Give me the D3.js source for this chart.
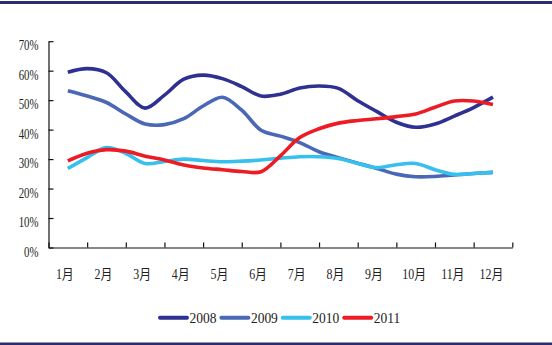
<!DOCTYPE html>
<html>
<head>
<meta charset="utf-8">
<script src="https://cdn.jsdelivr.net/npm/d3@7"></script>
<style>
  html, body { margin: 0; padding: 0; background: #fff; }
  svg { display: block; }
  text { font-family: "Liberation Serif", "Noto Sans CJK SC", serif; fill: #222; }
</style>
</head>
<body>
<svg id="chart" width="552" height="345"></svg>
<script>
// Month labels along the x axis
const months = ["1月", "2月", "3月", "4月", "5月", "6月", "7月", "8月", "9月", "10月", "11月", "12月"];
// Samples are taken twice a month, from early January to December
const sampleStep = 0.5;
// Share (%) by year
const s2008 = [59.5, 60.7, 59.3, 52.8, 47.3, 51.7, 57.1, 58.5, 57.3, 54.6, 51.4, 52.0, 54.1, 54.8, 54.0, 49.8, 46.1, 42.5, 40.8, 41.9, 44.6, 47.5, 51.0];
const s2009 = [53.2, 51.4, 49.2, 45.3, 41.9, 41.7, 43.7, 48.0, 51.0, 46.6, 39.8, 37.8, 35.6, 32.5, 30.5, 28.6, 26.8, 24.9, 24.0, 24.1, 24.6, 25.1, 25.5];
const s2010 = [26.8, 30.5, 33.9, 31.9, 28.5, 29.2, 30.0, 29.5, 29.1, 29.3, 29.7, 30.3, 30.8, 30.8, 30.2, 28.5, 27.1, 28.1, 28.5, 26.4, 24.8, 25.1, 25.5];
const s2011 = [29.4, 32.0, 33.2, 32.7, 31.0, 29.7, 28.0, 27.0, 26.4, 25.8, 25.7, 31.1, 37.3, 40.3, 42.2, 43.1, 43.7, 44.4, 45.3, 47.6, 49.7, 49.7, 48.5];
const seriesNames = ["2008", "2009", "2010", "2011"];
const seriesColors = ["#2e3192", "#4a68b5", "#35c0ee", "#ed1c24"];
const yTicks = [0, 10, 20, 30, 40, 50, 60, 70];

const allSeries = [s2008, s2009, s2010, s2011];

const svg = d3.select("#chart");
const frame = "#2b2d6e";

// top and bottom rules
svg.append("rect").attr("x", 0).attr("y", 1).attr("width", 552).attr("height", 3).attr("fill", frame);
svg.append("rect").attr("x", 0).attr("y", 342.5).attr("width", 552).attr("height", 2.5).attr("fill", frame);

const plotLeft = 48.5, plotRight = 512.3, plotTop = 41.2, plotBottom = 247.5;

const x = d3.scaleLinear().domain([0, months.length]).range([plotLeft, plotRight]);
const y = d3.scaleLinear().domain([0, 70]).range([plotBottom, plotTop]);

// y axis: ticks point into the plot
svg.append("g")
  .attr("transform", `translate(${plotLeft},0)`)
  .call(d3.axisLeft(y).tickValues(yTicks).tickSizeInner(-5).tickSizeOuter(0).tickFormat(""))
  .call(g => g.selectAll("path, line").attr("stroke", "#111").attr("stroke-width", 1.2));

// x axis: ticks at month boundaries, pointing up
svg.append("g")
  .attr("transform", `translate(0,${plotBottom})`)
  .call(d3.axisBottom(x).tickValues(d3.range(0, months.length + 1)).tickSizeInner(-5).tickSizeOuter(0).tickFormat(""))
  .call(g => g.selectAll("path, line").attr("stroke", "#111").attr("stroke-width", 1.2));

// y tick labels (condensed)
svg.append("g").selectAll("text")
  .data(yTicks)
  .join("text")
  .attr("transform", d => `translate(38.5,${y(d) + 9}) scale(0.72,1)`)
  .attr("text-anchor", "end")
  .attr("font-size", 15)
  .text(d => d + "%");

// month labels
svg.append("g").selectAll("text")
  .data(months)
  .join("text")
  .attr("transform", (d, i) => `translate(${x(i + 0.5) - (d.length < 3 ? 3 : 1.5)},279) scale(0.85,1)`)
  .attr("text-anchor", "middle")
  .attr("font-size", 14)
  .text(d => d);

// lines
const line = d3.line()
  .x((d, i) => x(0.5 + i * sampleStep))
  .y(d => y(d))
  .curve(d3.curveCatmullRom.alpha(0.5));

svg.append("g").selectAll("path")
  .data(allSeries)
  .join("path")
  .attr("d", line)
  .attr("fill", "none")
  .attr("stroke", (d, i) => seriesColors[i])
  .attr("stroke-width", 3.6)
  .attr("stroke-linejoin", "round")
  .attr("stroke-linecap", "butt");

// legend
const lg = svg.append("g").selectAll("g")
  .data(seriesNames)
  .join("g")
  .attr("transform", (d, i) => `translate(${160 + i * 61.4},317.7)`);
lg.append("line")
  .attr("x1", 0).attr("x2", 27)
  .attr("stroke", (d, i) => seriesColors[i])
  .attr("stroke-width", 4)
  .attr("stroke-linecap", "round");
lg.append("text")
  .attr("transform", "translate(29.5,5.5) scale(0.9,1)")
  .attr("font-size", 15)
  .text(d => d);
</script>
</body>
</html>
